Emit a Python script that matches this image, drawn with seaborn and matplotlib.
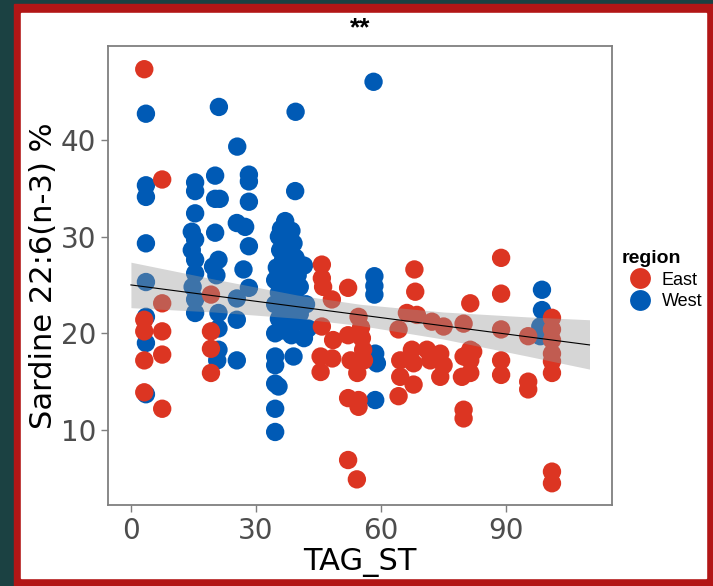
import pandas as pd
import numpy as np
import matplotlib.pyplot as plt
import matplotlib.patches as mpatches
import seaborn as sns

# West (blue) points: TAG_ST and 22:6(n-3) %
west_x = [3.6, 3.6, 3.6, 3.6, 3.6, 3.6, 3.6, 3.6,
          15.4, 15.4, 15.4, 14.6, 15.4, 14.6, 15.4, 15.4, 14.8, 15.4, 15.4,
          21.1, 20.2, 20.2, 21.3, 20.2, 21.0, 19.7, 20.5, 21.0, 21.0, 21.0, 20.7,
          25.5, 28.3, 28.3, 28.3, 25.4, 27.4, 28.3, 27.0, 28.3, 25.4, 25.4, 25.4,
          39.5, 39.4,
          37.0, 36.0, 38.5, 35.5, 37.5, 39.0, 35.8, 38.0, 36.5, 39.5, 35.0, 37.5,
          40.0, 34.6, 36.5, 38.5, 40.5, 35.5, 37.5, 39.5, 34.6, 36.5, 38.5, 40.5,
          35.5, 37.5, 39.5, 34.6, 36.5, 38.5, 34.6, 39.0, 34.6, 34.6, 35.4, 34.6,
          34.6, 41.5, 42.0, 42.5, 41.5,
          58.2, 58.4, 58.4, 58.4, 58.6, 59.0, 58.6,
          98.6, 98.6, 98.2, 98.2]
west_y = [42.7, 35.3, 34.1, 29.3, 25.3, 21.7, 19.0, 13.7,
          35.6, 34.7, 32.4, 30.5, 29.7, 28.6, 27.6, 26.2, 24.8, 23.5, 22.1,
          43.4, 36.3, 33.9, 33.9, 30.4, 27.6, 26.9, 26.0, 22.1, 20.5, 18.3, 17.2,
          39.3, 36.4, 35.7, 33.6, 31.4, 31.0, 29.0, 26.6, 24.7, 23.6, 21.4, 17.2,
          42.9, 34.7,
          31.6, 30.8, 30.6, 30.0, 29.5, 29.3, 28.6, 28.3, 27.6, 27.8, 26.8, 26.5,
          26.0, 25.5, 25.0, 25.2, 24.8, 24.2, 23.8, 23.5, 23.0, 22.6, 22.4, 22.0,
          21.5, 21.0, 21.2, 20.0, 20.3, 19.8, 17.6, 17.6, 16.7, 14.8, 14.5, 12.2,
          9.8, 27.0, 23.0, 20.5, 19.5,
          46.0, 25.9, 24.9, 24.0, 17.9, 16.9, 13.1,
          24.5, 22.4, 20.7, 19.7]

# East (red) points
east_x = [3.2, 7.5, 7.5, 3.2, 3.2, 3.2, 7.5, 7.5, 3.2, 7.5,
          19.2, 19.2, 19.2, 19.2,
          45.8, 45.8, 46.1, 48.2, 52.1,
          45.8, 48.5, 52.1, 55.4, 55.7, 54.6, 55.2,
          45.5, 48.3, 52.7, 55.9, 45.5, 54.3,
          52.1, 54.6, 54.6, 52.1, 54.2,
          68.0, 68.2,
          66.2, 68.6, 64.2, 72.2, 75.0, 79.8,
          64.6, 64.6, 67.4, 67.8, 67.8, 71.0, 71.8, 74.2, 75.0, 74.2, 79.8, 79.4, 82.1,
          64.2, 79.8, 79.8,
          81.4, 88.8, 88.8, 88.8, 88.8, 88.8, 95.3, 95.3, 95.3,
          101.0, 101.0, 101.0, 101.0, 101.0, 101.0, 101.0, 101.0,
          81.4, 81.4, 81.4]
east_y = [47.3, 35.9, 23.1, 21.4, 20.2, 17.2, 20.2, 17.8, 13.9, 12.2,
          24.0, 20.2, 18.4, 15.9,
          27.1, 25.7, 24.8, 23.5, 24.7,
          20.7, 19.3, 19.8, 19.5, 18.3, 21.7, 20.6,
          17.6, 17.4, 17.2, 17.2, 16.0, 15.9,
          13.3, 13.1, 12.4, 6.9, 4.9,
          26.6, 24.3,
          22.1, 21.9, 20.4, 21.2, 20.7, 21.0,
          17.2, 15.5, 18.3, 16.9, 14.7, 18.3, 17.2, 17.9, 16.7, 15.5, 17.6, 15.5, 18.1,
          13.5, 12.1, 11.2,
          23.1, 27.8, 24.1, 20.4, 17.2, 15.7, 19.7, 15.0, 14.2,
          21.6, 20.4, 19.3, 17.9, 17.1, 15.9, 5.7, 4.5,
          18.3, 17.2, 15.9]

# linear fit and its confidence band
fit_x = [0, 110]
fit_y = [25.0, 18.8]
band_x = [0, 20, 40, 55, 75, 95, 110]
band_lo = [22.65, 22.2, 21.55, 20.8, 19.4, 17.65, 16.3]
band_hi = [27.35, 25.6, 23.95, 23.0, 22.2, 21.7, 21.4]

region_order = ['East', 'West']
palette = {'East': '#DC3522', 'West': '#005AB5'}

df = pd.DataFrame({
    'TAG_ST': west_x + east_x,
    'DHA': west_y + east_y,
    'region': ['West'] * len(west_x) + ['East'] * len(east_x),
})

fig = plt.figure(figsize=(7.13, 5.86), dpi=100, facecolor='#1B4142')
# red frame and white card behind the plot
fig.patches.append(mpatches.Rectangle((14 / 713, 0), 699 / 713, 582 / 586,
                                      transform=fig.transFigure, color='#B21616', zorder=-2))
fig.patches.append(mpatches.Rectangle((21 / 713, 8 / 586), 685 / 713, 565 / 586,
                                      transform=fig.transFigure, color='white', zorder=-1))

ax = fig.add_axes([108 / 713, 81 / 586, 504 / 713, 459 / 586])
plt.rcParams['font.family'] = ['Liberation Sans', 'DejaVu Sans']

sns.scatterplot(data=df, x='TAG_ST', y='DHA', hue='region', hue_order=region_order,
                palette=palette, s=175, linewidth=0, alpha=1, ax=ax, zorder=2)

# smooth line + grey band on top of the points
ax.fill_between(band_x, band_lo, band_hi, color='#999999', alpha=0.4, linewidth=0, zorder=3)
sns.lineplot(x=fit_x, y=fit_y, color='black', linewidth=0.8, ax=ax, legend=False, zorder=4)

ax.set_xlim(-5.5, 115.4)
ax.set_ylim(2.25, 49.7)
ax.set_xticks([0, 30, 60, 90])
ax.set_yticks([10, 20, 30, 40])
ax.tick_params(labelsize=20, labelcolor='#4D4D4D', color='#7F7F7F', length=5, width=1)
for sp in ax.spines.values():
    sp.set_color('#7F7F7F')
    sp.set_linewidth(1.3)

ax.set_xlabel('TAG_ST', fontsize=22, labelpad=2)
ax.set_ylabel('Sardine 22:6(n-3) %', fontsize=22, labelpad=2)
fig.text(360 / 713, 1 - 35 / 586, '**', ha='center', va='baseline', fontsize=19, fontweight='bold')

sns.move_legend(ax, 'center left', bbox_to_anchor=(0.995, 0.49), frameon=False,
                title='region', fontsize=13, title_fontsize=14,
                handletextpad=0.2, labelspacing=0.25, borderaxespad=0.3)
leg = ax.get_legend()
leg.get_title().set_fontweight('bold')
leg._legend_box.align = 'left'
for h in leg.legend_handles:
    h.set_markersize(15)

fig.savefig('out.png', dpi=100, facecolor=fig.get_facecolor())
